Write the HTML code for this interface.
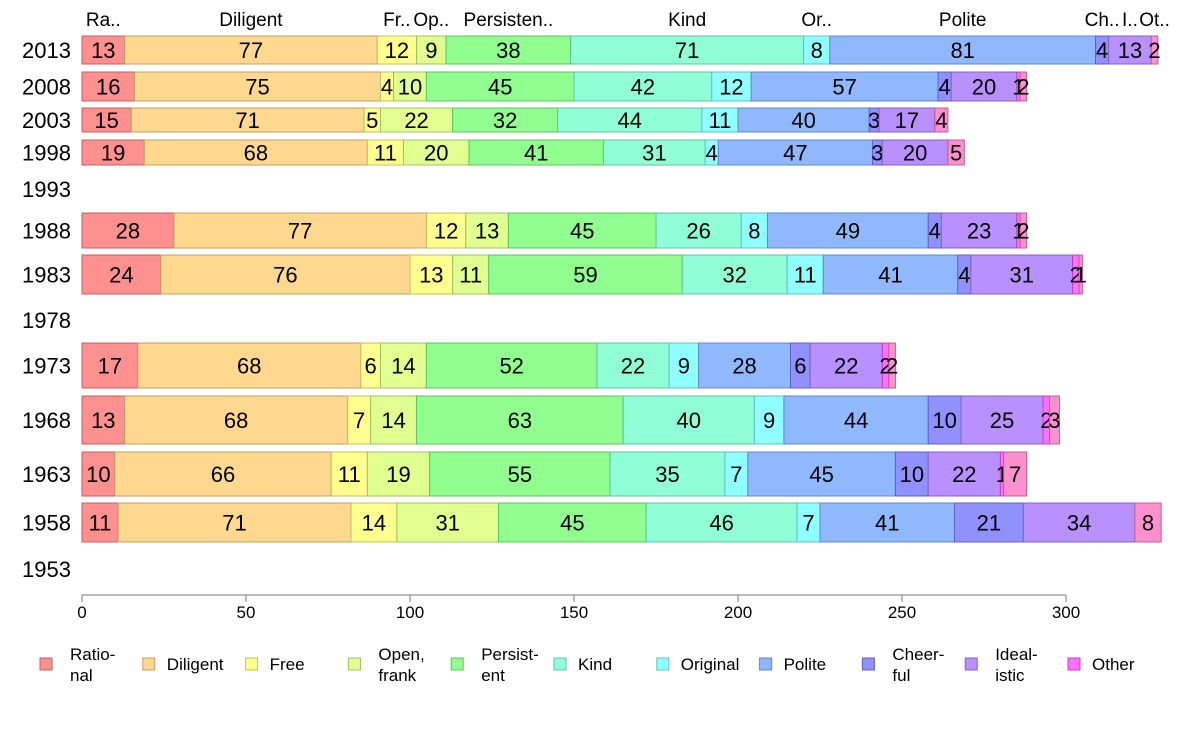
<!DOCTYPE html>
<html><head><meta charset="utf-8"><style>
body{margin:0;background:#fff;font-family:"Liberation Sans",sans-serif}
svg text{font-family:"Liberation Sans",sans-serif}
</style></head><body>
<svg id="chart" width="1188" height="736" viewBox="0 0 1188 736" xmlns="http://www.w3.org/2000/svg"></svg>
<script>
const years = ["2013","2008","2003","1998","1993","1988","1983","1978","1973","1968","1963","1958","1953"];
const categories = ["Rational","Diligent","Free","Open, frank","Persistent","Kind","Original","Polite","Cheerful","Idealistic","Other","Don't know"];
const topLabels = ["Ra..","Diligent","Fr..","Op..","Persisten..","Kind","Or..","Polite","Ch..","I..","D..","Ot.."];
const legendLines = [["Ratio-","nal"],["Diligent"],["Free"],["Open,","frank"],["Persist-","ent"],["Kind"],["Original"],["Polite"],["Cheer-","ful"],["Ideal-","istic"],["Other"]];
const values = {
"2013":[13,77,12,9,38,71,8,81,4,13,0,2],
"2008":[16,75,4,10,45,42,12,57,4,20,1,2],
"2003":[15,71,5,22,32,44,11,40,3,17,0,4],
"1998":[19,68,11,20,41,31,4,47,3,20,0,5],
"1993":null,
"1988":[28,77,12,13,45,26,8,49,4,23,1,2],
"1983":[24,76,13,11,59,32,11,41,4,31,2,1],
"1978":null,
"1973":[17,68,6,14,52,22,9,28,6,22,2,2],
"1968":[13,68,7,14,63,40,9,44,10,25,2,3],
"1963":[10,66,11,19,55,35,7,45,10,22,1,7],
"1958":[11,71,14,31,45,46,7,41,21,34,0,8],
"1953":null
};
const xTicks = [0,50,100,150,200,250,300];

// layout (not data)
const rowTop = [36,72,108,140,null,213,255,null,343,396,452,503,null];
const rowBot = [64,101,132,165,null,248,294,null,388,444,496,542,null];
const emptyCenter = {"1993":189,"1978":320,"1953":569};
const fills = ["#ff9090","#ffd890","#ffff90","#e0ff90","#90ff90","#90ffd8","#90ffff","#90b8ff","#9090ff","#b890ff","#ff70ff","#ff90d0"];
const strokes = ["#c06060","#c0a060","#c0c060","#a0c060","#60c060","#60c0a0","#60c0c0","#6088c0","#6060c0","#8860c0","#c040c0","#c06090"];
const X0 = 82, X1 = 1066;
const x = v => X0 + (v - 0) / 300 * (X1 - X0);

const NS = "http://www.w3.org/2000/svg";
const svg = document.getElementById("chart");
function mk(tag, attrs, parent){
  const e = document.createElementNS(NS, tag);
  for (const k in attrs) e.setAttribute(k, attrs[k]);
  (parent||svg).appendChild(e);
  return e;
}

years.forEach((yr, i) => {
  const vals = values[yr];
  const cy = vals ? (rowTop[i] + rowBot[i]) / 2 : emptyCenter[yr];
  const yl = mk("text", {x:71, y:cy+8, "text-anchor":"end", "font-size":22, fill:"#000"});
  
  
  yl.textContent = yr;
  if (!vals) return;
  const g = mk("g", {});
  
  
  let cum = 0;
  vals.forEach((v, c) => {
    const xa = x(cum), xb = x(cum + v);
    cum += v;
    if (v <= 0) return;
    const r = mk("rect", {x:xa, y:rowTop[i], width:xb - xa, height:rowBot[i] - rowTop[i], fill:fills[c], stroke:strokes[c], "stroke-width":1});
    
    
    g.appendChild(r);
    const t = mk("text", {x:(xa + xb) / 2, y:cy + 8, "text-anchor":"middle", "font-size":22, fill:"#000"}, g);
    
    
    t.textContent = v;
    if (yr === "2013") {
      const tl = mk("text", {x:(xa + xb) / 2, y:26, "text-anchor":"middle", "font-size":19, fill:"#000"});
      
      
      tl.textContent = topLabels[c];
    }
  });
});

// x axis
const ax = mk("g", {});


mk("line", {x1:x(0), x2:x(300), y1:595, y2:595, stroke:"#777", "stroke-width":1}, ax);
xTicks.forEach(t => {
  mk("line", {x1:x(t), x2:x(t), y1:595, y2:602, stroke:"#777"}, ax);
  const tt = mk("text", {x:x(t), y:618, "text-anchor":"middle", "font-size":17, fill:"#000"}, ax);
  
  
  tt.textContent = t;
});

// legend
legendLines.forEach((lines, k) => {
  const lx = 40 + k * 102.8;
  const g = mk("g", {});
  
  
  mk("rect", {x:lx, y:658, width:12, height:12, fill:fills[k], stroke:strokes[k]}, g);
  const tx = lx + (lines.length > 1 ? 30 : 24);
  if (lines.length === 1) {
    const t = mk("text", {x:tx, y:670, "font-size":17, fill:"#000"}, g);
    t.textContent = lines[0];
  } else {
    const t1 = mk("text", {x:tx, y:660, "font-size":17, fill:"#000"}, g);
    t1.textContent = lines[0];
    const t2 = mk("text", {x:tx, y:681, "font-size":17, fill:"#000"}, g);
    t2.textContent = lines[1];
  }
});
</script>
</body></html>
